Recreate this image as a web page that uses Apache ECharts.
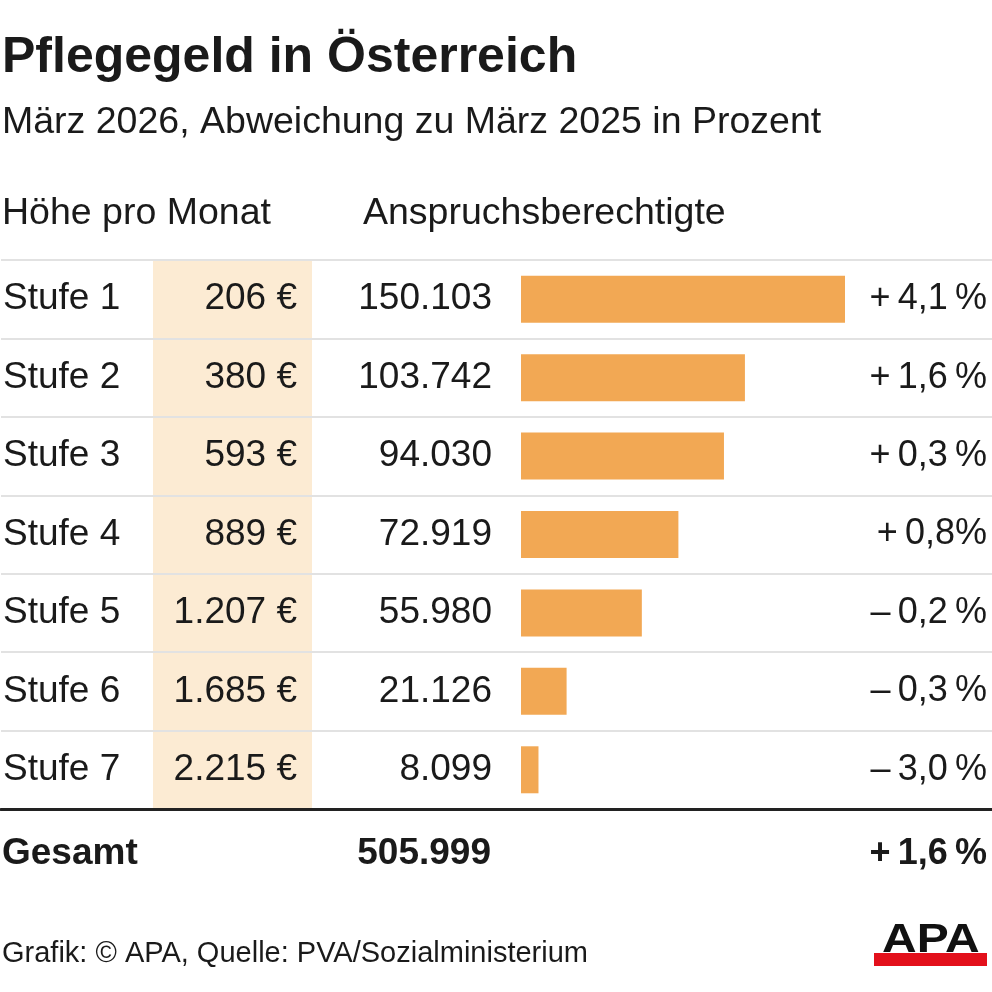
<!DOCTYPE html>
<html>
<head>
<meta charset="utf-8">
<style>
  html, body { margin: 0; padding: 0; background: #fff; }
  #chart { width: 992px; height: 992px; }
</style>
<script src="https://cdn.jsdelivr.net/npm/echarts@6/dist/echarts.min.js"></script>
</head>
<body>
<div id="chart"></div>
<script>
// ── Data ──

const stufen = ['Stufe 1', 'Stufe 2', 'Stufe 3', 'Stufe 4', 'Stufe 5', 'Stufe 6', 'Stufe 7'];
const betragEuro = [206, 380, 593, 889, 1207, 1685, 2215];
const berechtigte = [150103, 103742, 94030, 72919, 55980, 21126, 8099];
const aenderung = ['+\u20094,1\u2009%', '+\u20091,6\u2009%', '+\u20090,3\u2009%', '+\u20090,8%',
                   '\u2013\u20090,2\u2009%', '\u2013\u20090,3\u2009%', '\u2013\u20093,0\u2009%'];
const gesamtLabel = 'Gesamt';
const gesamtBerechtigte = 505999;
const gesamtAenderung = '+\u20091,6\u2009%';

const FONT = '"Liberation Sans", Arial, Helvetica, sans-serif';
const INK = '#1a1a1a';
const BAR = '#f2a854';
const BEIGE = '#fcebd3';

// ── Layout ──

const TOP = 260;
const TABLE_H = 549;
const BAR_LEFT = 521;
const BAR_RIGHT = 147;
const ROW_FONT = 37;

function tsd(n) {
  return String(n).replace(/\B(?=(\d{3})+(?!\d))/g, '.');
}

function txt(text, x, y, size, extra) {
  return {
    type: 'text', x: x, y: y, silent: true,
    style: Object.assign({
      text: text, fill: INK, fontFamily: FONT, fontSize: size,
      verticalAlign: 'middle', align: 'left',
    }, extra || {}),
  };
}

const chart = echarts.init(document.getElementById('chart'));

chart.setOption({
  backgroundColor: '#fff',
  animation: false,
  grid: [
    { left: 0, right: 0, top: TOP, height: TABLE_H },
    { left: BAR_LEFT, right: BAR_RIGHT, top: TOP, height: TABLE_H },
  ],
  xAxis: [
    {
      gridIndex: 0, type: 'value', min: 0, max: 1,
      axisLine: { show: true, lineStyle: { color: '#222', width: 3 } },
      axisTick: { show: false }, axisLabel: { show: false }, splitLine: { show: false },
    },
    { gridIndex: 1, type: 'value', min: 0, max: 'dataMax', show: false },
  ],
  yAxis: [
    {
      gridIndex: 0, type: 'category', inverse: true, data: stufen,
      axisLine: { show: false }, axisTick: { show: false },
      splitLine: { show: true, lineStyle: { color: '#e2e2e2', width: 2 } },
      axisLabel: {
        inside: true, margin: 2,
        formatter: (v, i) => `{a|${v}}{b|${tsd(betragEuro[i])} €}{c|${tsd(berechtigte[i])}}`,
        rich: {
          a: { width: 151, align: 'left', fontSize: ROW_FONT, fontFamily: FONT, color: INK },
          b: { width: 143, align: 'right', fontSize: ROW_FONT, fontFamily: FONT, color: INK },
          c: { width: 195, align: 'right', fontSize: ROW_FONT, fontFamily: FONT, color: INK },
        },
      },
    },
    {
      gridIndex: 0, type: 'category', inverse: true, data: stufen, position: 'right',
      axisLine: { show: false }, axisTick: { show: false }, splitLine: { show: false },
      axisLabel: {
        inside: true, margin: 5,
        formatter: (v, i) => aenderung[i],
        fontSize: 36, fontFamily: FONT, color: INK,
      },
    },
    { gridIndex: 1, type: 'category', inverse: true, data: stufen, show: false },
  ],
  series: [
    {
      type: 'bar', xAxisIndex: 1, yAxisIndex: 2,
      data: berechtigte, barWidth: 47, silent: true,
      itemStyle: { color: BAR },
    },
  ],
  graphic: [
    {
      type: 'rect', z: -1, silent: true,
      shape: { x: 153, y: TOP, width: 159, height: TABLE_H },
      style: { fill: BEIGE },
    },
    txt('Pflegegeld in Österreich', 2, 58, 50, { fontWeight: 'bold' }),
    txt('März 2026, Abweichung zu März 2025 in Prozent', 2, 123, 37.5),
    txt('Höhe pro Monat', 2, 214, 37.5),
    txt('Anspruchsberechtigte', 363, 214, 37.5),
    txt(gesamtLabel, 2, 854, ROW_FONT, { fontWeight: 'bold' }),
    txt(tsd(gesamtBerechtigte), 491, 854, ROW_FONT, { fontWeight: 'bold', align: 'right' }),
    txt(gesamtAenderung, 987, 854, 36, { fontWeight: 'bold', align: 'right' }),
    txt('Grafik: © APA, Quelle: PVA/Sozialministerium', 2, 954, 29),
    // APA logo
    {
      type: 'rect', silent: true,
      shape: { x: 874, y: 953, width: 113, height: 13 },
      style: { fill: '#e3101b' },
    },
    {
      type: 'text', silent: true, x: 882, y: 961, scaleX: 1.2, z: 2,
      style: {
        text: 'APA', fill: '#111', fontFamily: FONT, fontSize: 40, fontWeight: 900,
        verticalAlign: 'bottom', align: 'left',
      },
    },
  ],
});
</script>
</body>
</html>
